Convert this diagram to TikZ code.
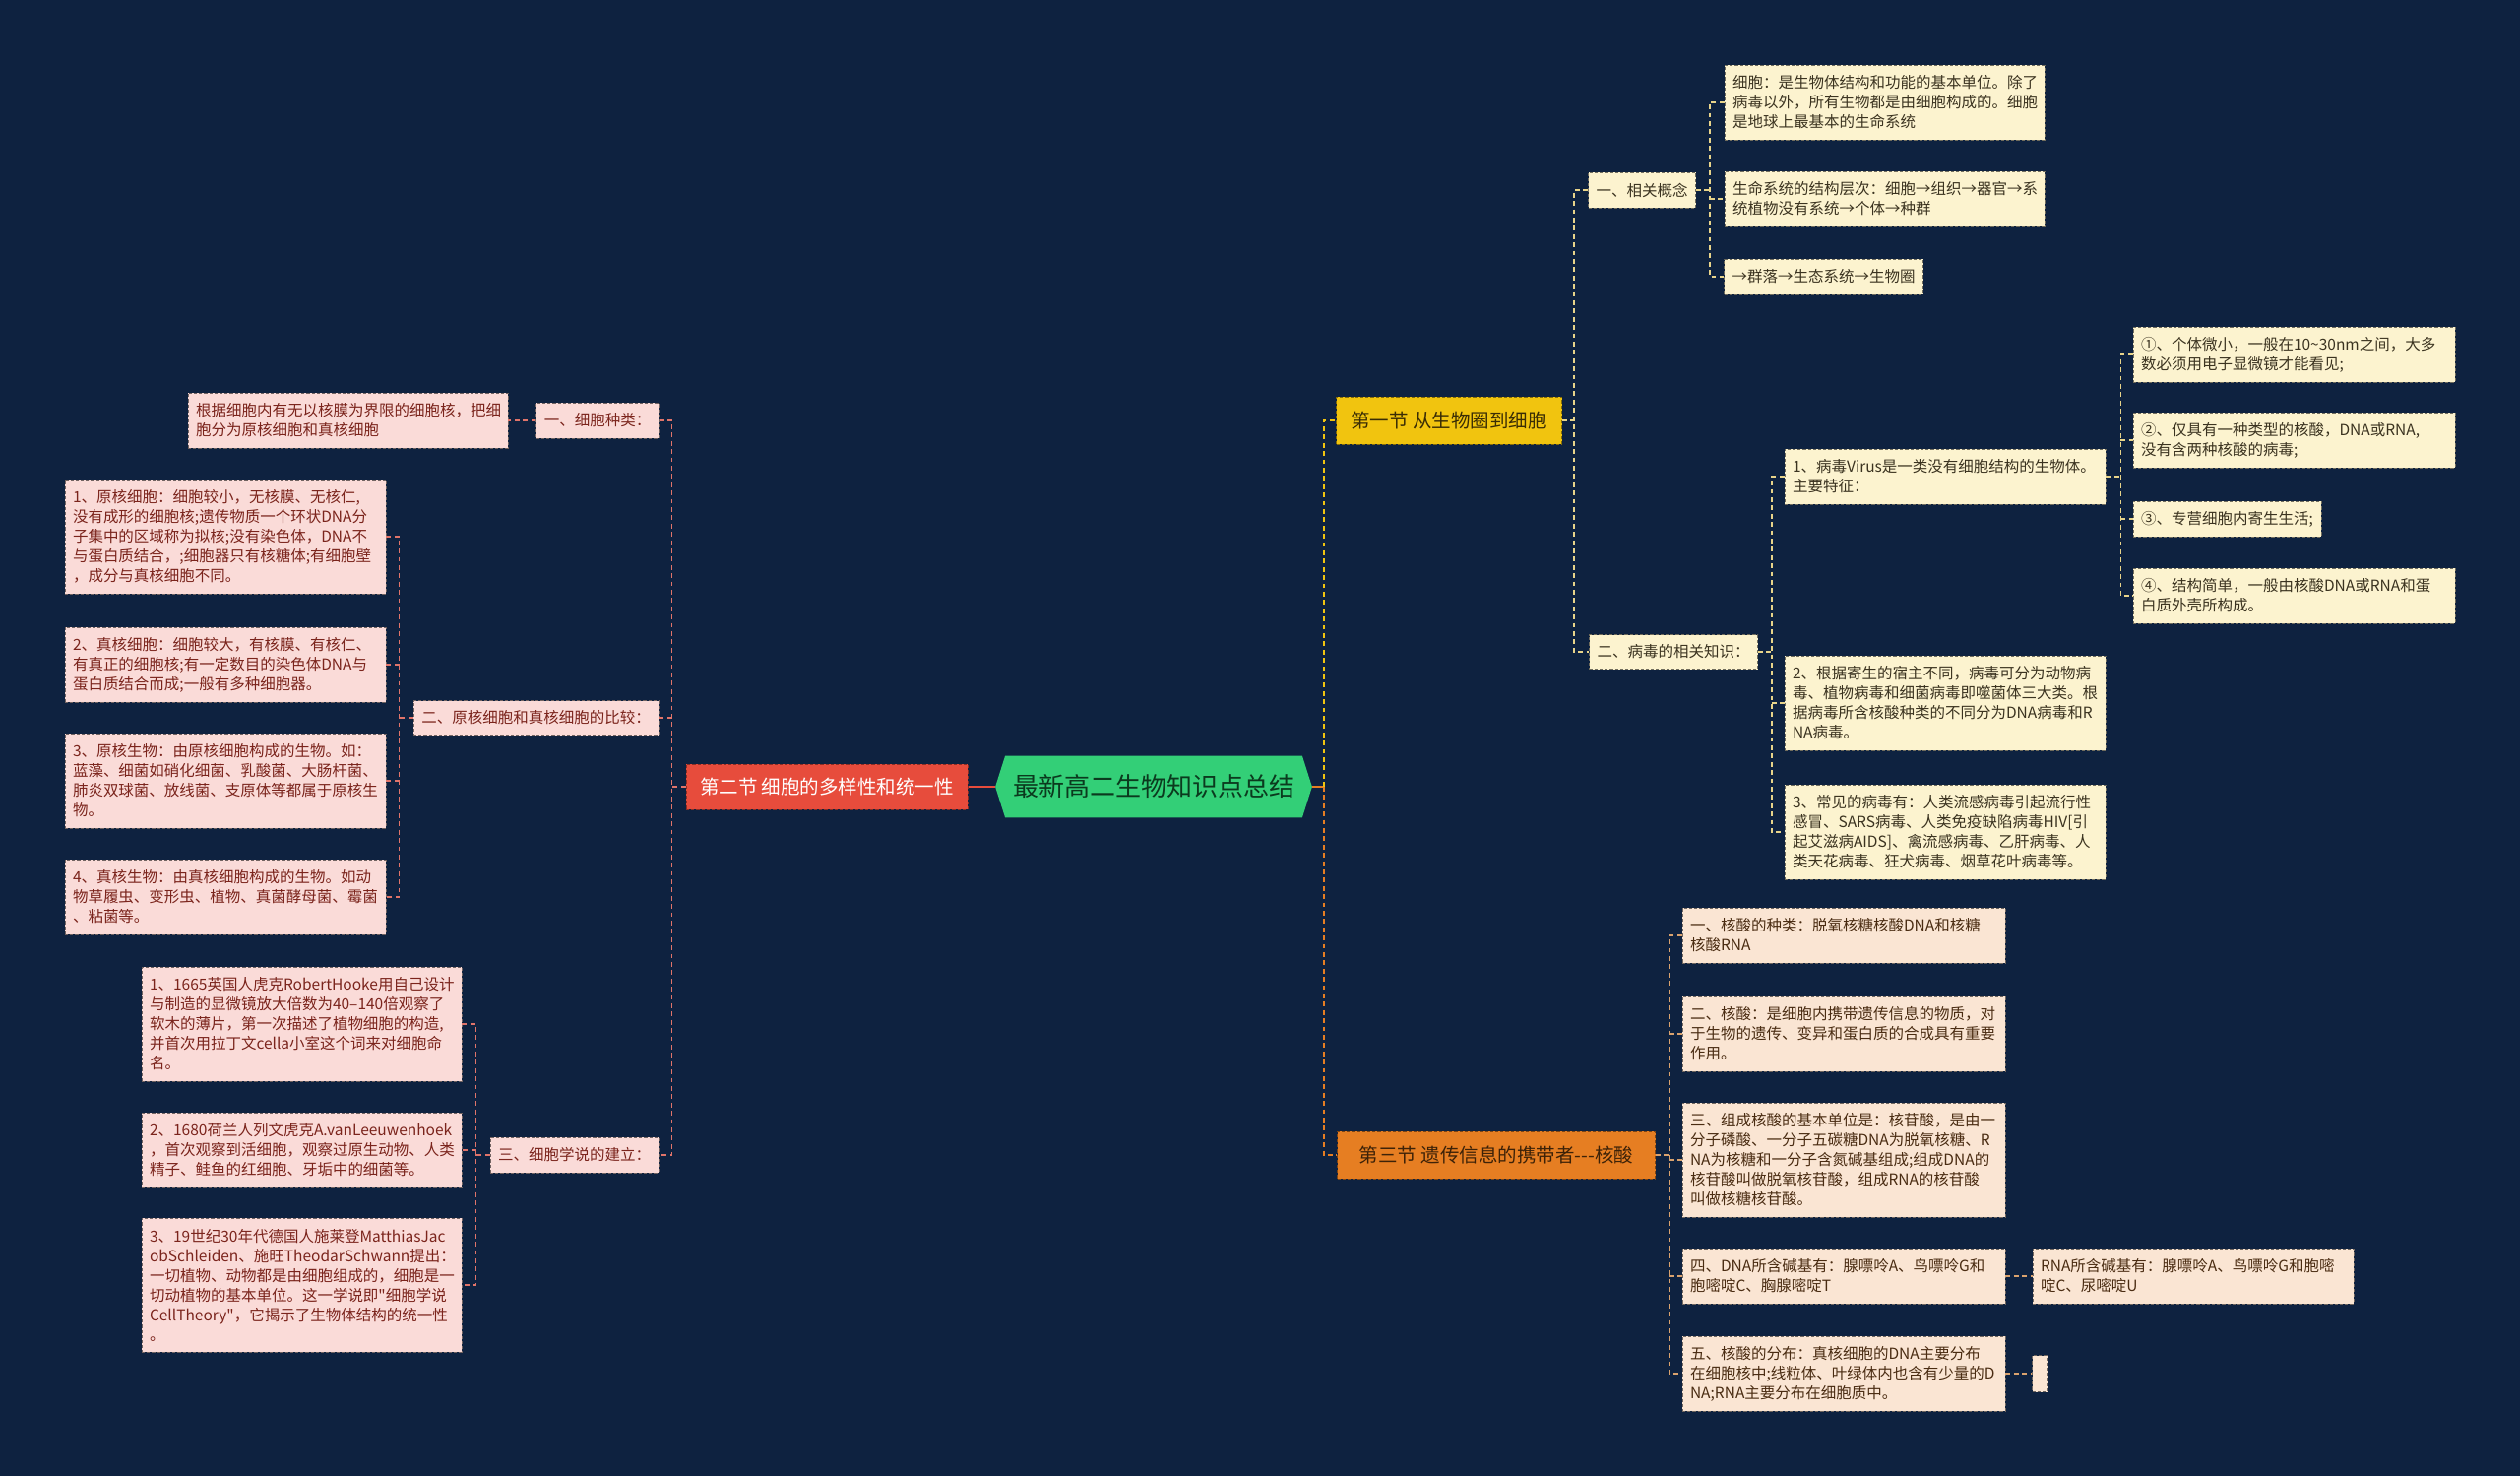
\documentclass[tikz,border=0pt]{standalone}
\usepackage{fontspec}
\newfontfamily\cjk{Noto Sans CJK SC}
\usetikzlibrary{backgrounds}
\definecolor{bg}{HTML}{0E2240}
\definecolor{rootg}{HTML}{33CF77}
\definecolor{roott}{HTML}{0B3A1E}
\definecolor{yel}{HTML}{F1C40F}
\definecolor{yelt}{HTML}{3A2D05}
\definecolor{redc}{HTML}{E74C3C}
\definecolor{ora}{HTML}{E67E22}
\definecolor{orat}{HTML}{3D2208}
\definecolor{cream}{HTML}{FCF3CF}
\definecolor{creamt}{HTML}{3B3320}
\definecolor{pink}{HTML}{FADBD8}
\definecolor{pinkt}{HTML}{7B241C}
\definecolor{peach}{HTML}{FAE5D3}
\definecolor{peacht}{HTML}{4A2C12}
\definecolor{yline}{HTML}{E8D48A}
\definecolor{rline}{HTML}{E0746A}
\definecolor{oline}{HTML}{D9A26E}
\begin{document}
\begin{tikzpicture}[x=0.5pt,y=-0.5pt,
  box/.style={rectangle, dashed, dash pattern=on 1.6pt off 1pt, line width=0.45pt, inner xsep=4pt, inner ysep=2.5pt, font=\cjk\fontsize{7.75}{10}\selectfont, align=left},
  cleafA/.style={box, fill=cream, draw=cream!45!black, text=creamt},
  cleafB/.style={box, fill=pink, draw=pink!45!black, text=pinkt},
  cleafC/.style={box, fill=peach, draw=peach!45!black, text=peacht},
  lvltwo/.style={rectangle, dashed, dash pattern=on 1.6pt off 1pt, line width=0.5pt, inner sep=0pt, font=\cjk\fontsize{9.75}{12}\selectfont},
  conn/.style={line width=0.9pt, dash pattern=on 2.4pt off 1.8pt},
  lineA/.style={conn, draw=yline},
  lineB/.style={conn, draw=rline},
  lineC/.style={conn, draw=oline}]
\useasboundingbox (0,0) rectangle (2560,1499);

% root
\node[inner sep=0pt, minimum width=160.5pt, minimum height=31pt, font=\cjk\fontsize{13}{15}\selectfont, text=roott] (root) at (1172,799) {最新高二生物知识点总结};
\begin{scope}[on background layer]
\fill[bg] (0,0) rectangle (2560,1499);
\fill[rootg] (root.west) -- ([xshift=5pt]root.north west) -- ([xshift=-5pt]root.north east) -- (root.east) -- ([xshift=-5pt]root.south east) -- ([xshift=5pt]root.south west) -- cycle;
\end{scope}

% level two
\node[lvltwo, fill=yel, draw=yel!55!black, text=yelt, minimum width=114.5pt, minimum height=24pt] (s1) at (1472,427) {第一节 从生物圈到细胞};
\node[lvltwo, fill=redc, draw=redc!60!black, text=white, minimum width=143pt, minimum height=23pt] (s2) at (840,799) {第二节 细胞的多样性和统一性};
\node[lvltwo, fill=ora, draw=ora!55!black, text=orat, minimum width=161.5pt, minimum height=24pt] (s3) at (1520,1173) {第三节 遗传信息的携带者-{}-{}-核酸};

% section 1
\node[cleafA, minimum width=54.5pt, minimum height=18pt, align=center] (g1) at (1668,193) {一、相关概念};
\node[cleafA, minimum width=85.5pt, minimum height=17.5pt, align=center] (g2) at (1700,662) {二、病毒的相关知识：};
\node[cleafA, text width=154.5pt, minimum height=38pt] (A) at (1914.5,104) {细胞：是生物体结构和功能的基本单位。除了\\病毒以外，所有生物都是由细胞构成的。细胞\\是地球上最基本的生命系统};
\node[cleafA, text width=154.5pt, minimum height=28pt] (B) at (1914.5,202) {生命系统的结构层次：细胞→组织→器官→系\\统植物没有系统→个体→种群};
\node[cleafA, minimum width=100.5pt, minimum height=18pt] (C) at (1852.5,281) {→群落→生态系统→生物圈};
\node[cleafA, text width=155pt, minimum height=28pt] (V1) at (1976,484) {1、病毒Virus是一类没有细胞结构的生物体。\\主要特征：};
\node[cleafA, text width=155pt, minimum height=48pt] (V2) at (1976,714) {2、根据寄生的宿主不同，病毒可分为动物病\\毒、植物病毒和细菌病毒即噬菌体三大类。根\\据病毒所含核酸种类的不同分为DNA病毒和R\\NA病毒。};
\node[cleafA, text width=155pt, minimum height=48pt] (V3) at (1976,845) {3、常见的病毒有：人类流感病毒引起流行性\\感冒、SARS病毒、人类免疫缺陷病毒HIV[引\\起艾滋病AIDS]、禽流感病毒、乙肝病毒、人\\类天花病毒、狂犬病毒、烟草花叶病毒等。};
\node[cleafA, text width=155.5pt, minimum height=28pt] (F1) at (2330.5,360) {①、个体微小，一般在10\textasciitilde30nm之间，大多\\数必须用电子显微镜才能看见;};
\node[cleafA, text width=155.5pt, minimum height=28pt] (F2) at (2330.5,447) {②、仅具有一种类型的核酸，DNA或RNA,\\没有含两种核酸的病毒;};
\node[cleafA, minimum width=95.5pt, minimum height=18pt] (F3) at (2262.5,527) {③、专营细胞内寄生生活;};
\node[cleafA, text width=155.5pt, minimum height=28pt] (F4) at (2330.5,605) {④、结构简单，一般由核酸DNA或RNA和蛋\\白质外壳所构成。};

% section 3
\node[cleafC, text width=156pt, minimum height=28pt] (N1) at (1873,950) {一、核酸的种类：脱氧核糖核酸DNA和核糖\\核酸RNA};
\node[cleafC, text width=156pt, minimum height=38pt] (N2) at (1873,1050) {二、核酸：是细胞内携带遗传信息的物质，对\\于生物的遗传、变异和蛋白质的合成具有重要\\作用。};
\node[cleafC, text width=156pt, minimum height=58pt] (N3) at (1873,1178) {三、组成核酸的基本单位是：核苷酸，是由一\\分子磷酸、一分子五碳糖DNA为脱氧核糖、R\\NA为核糖和一分子含氮碱基组成;组成DNA的\\核苷酸叫做脱氧核苷酸，组成RNA的核苷酸\\叫做核糖核苷酸。};
\node[cleafC, text width=156pt, minimum height=28pt] (N4) at (1873,1296) {四、DNA所含碱基有：腺嘌呤A、鸟嘌呤G和\\胞嘧啶C、胸腺嘧啶T};
\node[cleafC, text width=156pt, minimum height=38pt] (N5) at (1873,1395) {五、核酸的分布：真核细胞的DNA主要分布\\在细胞核中;线粒体、叶绿体内也含有少量的D\\NA;RNA主要分布在细胞质中。};
\node[cleafC, text width=155pt, minimum height=28pt] (R) at (2228,1296) {RNA所含碱基有：腺嘌呤A、鸟嘌呤G和胞嘧\\啶C、尿嘧啶U};
\node[cleafC, inner sep=0pt, minimum width=7.5pt, minimum height=18.5pt] (E) at (2072,1395) {};

% section 2
\node[cleafB, minimum width=62pt, minimum height=18pt, align=center] (k1) at (607,427) {一、细胞种类：};
\node[cleafB, minimum width=124.5pt, minimum height=17.5pt, align=center] (k2) at (544.5,729) {二、原核细胞和真核细胞的比较：};
\node[cleafB, minimum width=85.5pt, minimum height=18pt, align=center] (k3) at (583.5,1173) {三、细胞学说的建立：};
\node[cleafB, text width=154.5pt, minimum height=28pt] (L0) at (353.5,427) {根据细胞内有无以核膜为界限的细胞核，把细\\胞分为原核细胞和真核细胞};
\node[cleafB, text width=155pt, minimum height=58pt] (P1) at (229,545) {1、原核细胞：细胞较小，无核膜、无核仁,\\没有成形的细胞核;遗传物质一个环状DNA分\\子集中的区域称为拟核;没有染色体，DNA不\\与蛋白质结合，;细胞器只有核糖体;有细胞壁\\，成分与真核细胞不同。};
\node[cleafB, text width=155pt, minimum height=38pt] (P2) at (229,675) {2、真核细胞：细胞较大，有核膜、有核仁、\\有真正的细胞核;有一定数目的染色体DNA与\\蛋白质结合而成;一般有多种细胞器。};
\node[cleafB, text width=155pt, minimum height=48pt] (P3) at (229,793) {3、原核生物：由原核细胞构成的生物。如：\\蓝藻、细菌如硝化细菌、乳酸菌、大肠杆菌、\\肺炎双球菌、放线菌、支原体等都属于原核生\\物。};
\node[cleafB, text width=155pt, minimum height=38pt] (P4) at (229,911) {4、真核生物：由真核细胞构成的生物。如动\\物草履虫、变形虫、植物、真菌酵母菌、霉菌\\、粘菌等。};
\node[cleafB, text width=154.5pt, minimum height=58pt] (H1) at (306.5,1040) {1、1665英国人虎克RobertHooke用自己设计\\与制造的显微镜放大倍数为40–140倍观察了\\软木的薄片，第一次描述了植物细胞的构造,\\并首次用拉丁文cella小室这个词来对细胞命\\名。};
\node[cleafB, text width=154.5pt, minimum height=38pt] (H2) at (306.5,1168) {2、1680荷兰人列文虎克A.vanLeeuwenhoek\\，首次观察到活细胞，观察过原生动物、人类\\精子、鲑鱼的红细胞、牙垢中的细菌等。};
\node[cleafB, text width=154.5pt, minimum height=68pt] (H3) at (306.5,1305) {3、19世纪30年代德国人施莱登MatthiasJac\\obSchleiden、施旺TheodarSchwann提出：\\一切植物、动物都是由细胞组成的，细胞是一\\切动植物的基本单位。这一学说即"细胞学说\\CellTheory"，它揭示了生物体结构的统一性\\。};

% connectors: root
\draw[ora, line width=0.9pt] (root.east) -- ++(12,0) coordinate (rs);
\draw[conn, draw=yel] (rs) |- (s1.west);
\draw[conn, draw=ora] (rs) |- (s3.west);
\draw[redc, line width=0.9pt] (root.west) -- (s2.east);

% section 1 connectors
\draw[lineA] (s1.east) -- ++(12,0) coordinate (v1);
\draw[lineA] (g1.west) -| (v1) |- (g2.west);
\draw[lineA] (g1.east) -- ++(14,0) coordinate (v2);
\draw[lineA] (A.west) -| (v2) |- (C.west);
\draw[lineA] (v2 |- B.west) -- (B.west);
\draw[lineA] (g2.east) -- ++(14,0) coordinate (v3);
\draw[lineA] (V1.west) -| (v3) |- (V3.west);
\draw[lineA] (v3 |- V2.west) -- (V2.west);
\draw[lineA] (V1.east) -- ++(15,0) coordinate (v4);
\draw[lineA] (F1.west) -| (v4) |- (F4.west);
\draw[lineA] (v4 |- F2.west) -- (F2.west);
\draw[lineA] (v4 |- F3.west) -- (F3.west);

% section 3 connectors
\draw[lineC] (s3.east) -- ++(14,0) coordinate (v5);
\draw[lineC] (N1.west) -| (v5) |- (N5.west);
\draw[lineC] (v5 |- N2.west) -- (N2.west);
\draw[lineC] (v5 |- N3.west) -- (N3.west);
\draw[lineC] (v5 |- N4.west) -- (N4.west);
\draw[lineC] (N4.east) -- (R.west);
\draw[lineC] (N5.east) -- (E.west);

% section 2 connectors
\draw[lineB] (s2.west) -- ++(-14,0) coordinate (ls);
\draw[lineB] (k1.east) -| (ls) |- (k3.east);
\draw[lineB] (ls |- k2.east) -- (k2.east);
\draw[lineB] (k1.west) -- (L0.east);
\draw[lineB] (k2.west) -- ++(-14,0) coordinate (lv2);
\draw[lineB] (P1.east) -| (lv2) |- (P4.east);
\draw[lineB] (lv2 |- P2.east) -- (P2.east);
\draw[lineB] (lv2 |- P3.east) -- (P3.east);
\draw[lineB] (k3.west) -- ++(-14,0) coordinate (lv3);
\draw[lineB] (H1.east) -| (lv3) |- (H3.east);
\draw[lineB] (lv3 |- H2.east) -- (H2.east);
\end{tikzpicture}
\end{document}
